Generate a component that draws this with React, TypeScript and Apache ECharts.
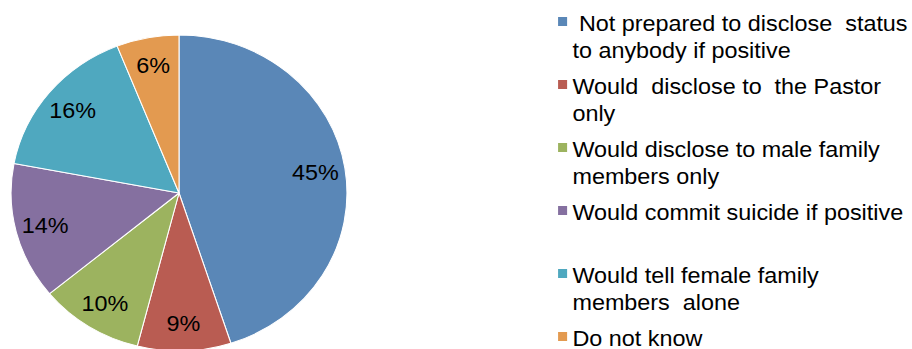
import React, { useEffect, useRef } from "react";
import * as echarts from "echarts";

const categories = [
  " Not prepared to disclose  status\nto anybody if positive",
  "Would  disclose to  the Pastor\nonly",
  "Would disclose to male family\nmembers only",
  "Would commit suicide if positive\n ",
  "Would tell female family\nmembers  alone",
  "Do not know\n ",
];
const values = [45, 9, 10, 14, 16, 6];
const colors = ["#5A87B7", "#B95C52", "#9CB35F", "#8570A0", "#4FA8BF", "#E39A50"];

const SCALE_X = 1.063;
const FONT = "'Liberation Sans', Arial, sans-serif";

export default function App() {
  const ref = useRef<HTMLDivElement>(null);
  useEffect(() => {
    if (!ref.current) return;
    const chart = echarts.init(ref.current, undefined, { renderer: "svg" });
    const center = [168.4, 193];
    chart.setOption({
      animation: false,
      backgroundColor: "#fff",
      legend: {
        orient: "vertical",
        left: 520,
        top: 5,
        height: 600,
        itemGap: 9,
        itemWidth: 8.5,
        itemHeight: 54,
        icon: "path://M0 7h8.5v9h-8.5z M0 0h0.01v0.01h-0.01z M0 54h0.01v0.01h-0.01z",
        selectedMode: false,
        itemStyle: { borderWidth: 0 },
        textStyle: { fontFamily: FONT, fontSize: 22, lineHeight: 27, color: "#000" },
        data: categories,
      },
      series: [
        {
          type: "pie",
          center,
          radius: [0, 158],
          startAngle: 90,
          clockwise: true,
          silent: true,
          label: { show: false },
          labelLine: { show: false },
          itemStyle: { borderColor: "#fff", borderWidth: 1 },
          data: categories.map((n, i) => ({ name: n, value: values[i], itemStyle: { color: colors[i] } })),
        },
        {
          type: "pie",
          center,
          radius: [96, 158],
          startAngle: 90,
          clockwise: true,
          silent: true,
          itemStyle: { color: "rgba(0,0,0,0)", borderWidth: 0 },
          label: {
            show: true,
            position: "inside",
            formatter: "{c}%",
            color: "#000",
            fontSize: 22,
            fontFamily: FONT,
            textBorderWidth: 0,
          },
          labelLine: { show: false },
          data: categories.map((n, i) => ({ name: n, value: values[i] })),
        },
      ],
    });
    return () => chart.dispose();
  }, []);
  return (
    <div
      style={{
        position: "fixed",
        left: 0,
        top: 0,
        width: 858,
        height: 420,
        transform: `scaleX(${SCALE_X})`,
        transformOrigin: "0 0",
        background: "#fff",
      }}
    >
      <div ref={ref} style={{ width: 858, height: 420 }} />
    </div>
  );
}
